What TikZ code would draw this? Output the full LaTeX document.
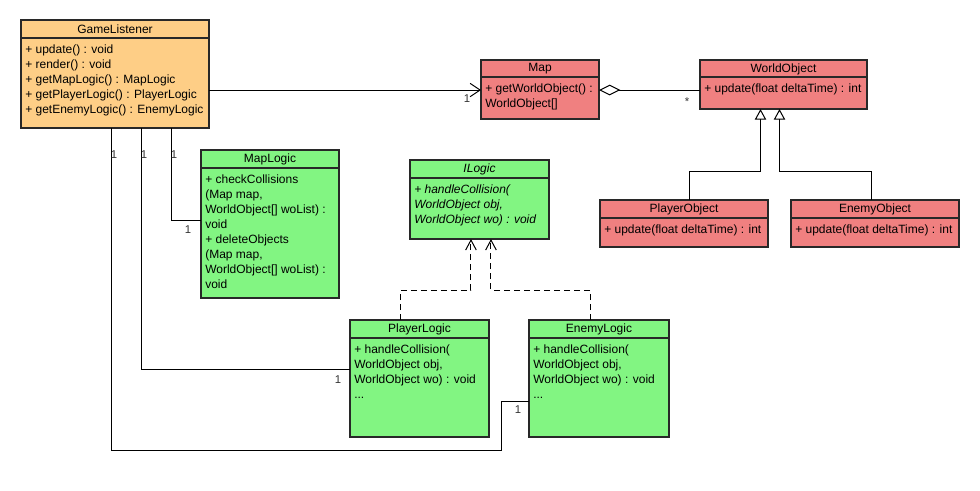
\documentclass[tikz,border=0pt]{standalone}
\usepackage{fontspec}
\setmainfont{Liberation Sans}
\usetikzlibrary{arrows.meta,fit,calc}
\definecolor{glfill}{RGB}{254,206,134}
\definecolor{redfill}{RGB}{240,128,128}
\definecolor{greenfill}{RGB}{130,245,130}
\definecolor{edge}{RGB}{40,40,40}
\tikzset{
  classbox/.style={draw=edge, line width=0.8pt, inner sep=0pt, outer sep=0pt},
  classline/.style={draw=edge, line width=0.8pt},
  titletext/.style={inner sep=0pt, font=\fontsize{9}{11.25}\selectfont},
  bodytext/.style={inner sep=0pt, anchor=north west, align=left, font=\fontsize{9}{11.25}\selectfont},
  conn/.style={draw=black, line width=0.75pt},
  navarrow/.style={conn, -{Straight Barb[length=7.5pt,width=10pt]}},
  agg/.style={conn, {Diamond[open,length=16pt,width=8pt]}-},
  gen/.style={conn, -{Triangle[open,length=8pt,width=8.5pt]}},
  real/.style={conn, dash pattern=on 4.5pt off 3pt, -{Straight Barb[length=7.5pt,width=8pt]}},
  mult/.style={inner sep=0pt, text=black!80, font=\fontsize{8.5}{9}\selectfont},
}
% name, x1, y1, x2, y2, header-y, fill, title, body
\newcommand{\umlclass}[9]{%
  \node[classbox, fill=#7, fit={(#2,#3) (#4,#5)}] (#1) {};
  \draw[classline] (#2,#6) -- (#4,#6);
  \node[titletext] (#1-title) at ({(#2+#4)/2},{(#3+#6)/2+0.5}) {#8};
  \node[bodytext] (#1-body) at ({#2+4},{#6+6.5}) {#9};
}
\begin{document}
\begin{tikzpicture}[x=0.75pt,y=-0.75pt]
\path[use as bounding box, fill=white] (0,0) rectangle (980,490);

\umlclass{gl}{21}{20}{209}{128}{38}{glfill}{GameListener}%
  {+ update() : void\\+ render() : void\\+ getMapLogic() : MapLogic\\+ getPlayerLogic() : PlayerLogic\\+ getEnemyLogic() : EnemyLogic}
\umlclass{map}{481}{60}{599}{119}{77}{redfill}{Map}%
  {+ getWorldObject() :\\WorldObject[]}
\umlclass{wo}{700}{60}{867}{109}{77}{redfill}{WorldObject}%
  {+ update(float deltaTime) : int}
\umlclass{po}{600}{200}{768}{247}{218}{redfill}{PlayerObject}%
  {+ update(float deltaTime) : int}
\umlclass{eo}{791}{200}{959}{247}{218}{redfill}{EnemyObject}%
  {+ update(float deltaTime) : int}
\umlclass{ml}{201}{150}{339}{298}{168}{greenfill}{MapLogic}%
  {+ checkCollisions\\(Map map,\\WorldObject[] woList) :\\void\\+ deleteObjects\\(Map map,\\WorldObject[] woList) :\\void}
\umlclass{il}{410}{160}{549}{239}{178}{greenfill}{\itshape ILogic}%
  {\itshape + handleCollision(\\\itshape WorldObject obj,\\\itshape WorldObject wo) : void}
\umlclass{pl}{350}{320}{489}{437}{338}{greenfill}{PlayerLogic}%
  {+ handleCollision(\\WorldObject obj,\\WorldObject wo) : void\\...}
\umlclass{el}{529}{320}{669}{437}{338}{greenfill}{EnemyLogic}%
  {+ handleCollision(\\WorldObject obj,\\WorldObject wo) : void\\...}

% GameListener -> Map (navigable association)
\draw[navarrow] ([yshift=-0.4pt]map.west -| gl.east) -- ([yshift=-0.4pt]map.west);
\node[mult] (m-map) at (467,99) {1};

% Map <>-- WorldObject (aggregation)
\draw[agg] ([yshift=-0.4pt]map.east) -- ([yshift=-0.4pt]map.east -| wo.west);
\node[mult] (m-wo) at (687,102) {*};

% generalizations
\draw[gen] ([xshift=4pt]po.north) -- ++(0,-29) -| ([xshift=-17.25pt]wo.south);
\draw[gen] ([xshift=-3pt]eo.north) -- ++(0,-29) -| ([xshift=-3pt]wo.south);

% realizations
\draw[real] ([xshift=-14pt]pl.north) -- ++(0,-30) -| ([xshift=-6.4pt]il.south);
\draw[real] ([xshift=-6.75pt]el.north) -- ++(0,-30) -| ([xshift=8.6pt]il.south);

% GameListener -- MapLogic
\draw[conn] ([xshift=42pt]gl.south) |- ([yshift=3pt]ml.west);
\node[mult] (m-gl1) at (174,155) {1};
\node[mult] (m-ml) at (188,230) {1};

% GameListener -- PlayerLogic
\draw[conn] ([xshift=19.5pt]gl.south) |- ([yshift=6.4pt]pl.west);
\node[mult] (m-gl2) at (144,155) {1};
\node[mult] (m-pl) at (338,380) {1};

% GameListener -- EnemyLogic
\draw[conn] ([xshift=-3pt]gl.south) -- ++(0,322) -| ([xshift=-21pt,yshift=-17pt]el.west) -- ([yshift=-17pt]el.west);
\node[mult] (m-gl3) at (114,155) {1};
\node[mult] (m-el) at (518,410) {1};
\end{tikzpicture}
\end{document}
